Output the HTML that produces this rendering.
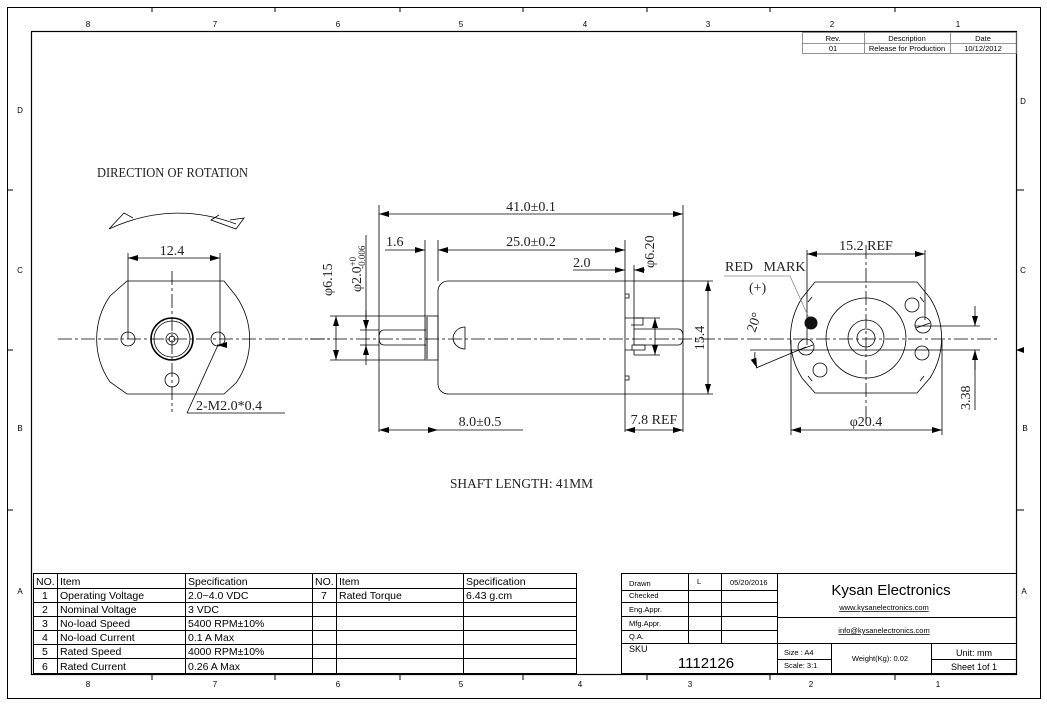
<!DOCTYPE html>
<html><head><meta charset="utf-8"><style>
html,body{margin:0;padding:0;background:#fff;}
svg{display:block;}
.d{font-family:"Liberation Serif",serif;font-size:14px;fill:#222;}
.s{font-family:"Liberation Sans",sans-serif;fill:#000;}
</style></head><body>
<svg width="1047" height="705" viewBox="0 0 1047 705" xmlns="http://www.w3.org/2000/svg">
<defs>
<marker id="a" viewBox="0 0 10 6" refX="10" refY="3" markerWidth="10" markerHeight="6" orient="auto-start-reverse" markerUnits="userSpaceOnUse"><path d="M0,0 L10,3 L0,6 z" fill="#000"/></marker>
</defs>
<rect x="0" y="0" width="1047" height="705" fill="#fff"/>
<g fill="none" stroke="#000">
<rect x="7.5" y="7.5" width="1033" height="691" stroke-width="1"/>
<rect x="31.5" y="31.5" width="985" height="643" stroke-width="1.2"/>
<!-- ticks -->
<path d="M152,7v5M275,7v5M400,7v5M523,7v5M647,7v5M770,7v5M895,7v5 M152,674v6M275,674v6M400,674v6M523,674v6M647,674v6M770,674v6M895,674v6 M7,190h6M7,350h6M7,510h6 M1016,190h8M1016,510h8"/>
</g>
<path d="M1016,350 l8,-3 v6z" fill="#000"/>
<g class="s" font-size="8" fill="#444" text-anchor="middle">
<text x="88" y="27">8</text><text x="215" y="27">7</text><text x="338" y="27">6</text><text x="461" y="27">5</text><text x="585" y="27">4</text><text x="708" y="27">3</text><text x="832" y="27">2</text><text x="958" y="27">1</text>
<text x="88" y="687">8</text><text x="215" y="687">7</text><text x="338" y="687">6</text><text x="461" y="687">5</text><text x="580" y="687">4</text><text x="690" y="687">3</text><text x="811" y="687">2</text><text x="938" y="687">1</text>
<text x="20" y="113">D</text><text x="20" y="273">C</text><text x="20" y="431">B</text><text x="20" y="594">A</text>
<text x="1023" y="104">D</text><text x="1023" y="273">C</text><text x="1025" y="431">B</text><text x="1024" y="594">A</text>
</g>
<!-- rev table -->
<g fill="none" stroke="#777" stroke-width="0.8">
<rect x="802.5" y="32.5" width="214" height="21"/><path d="M802,43.5h214M864.5,32v21M950.5,32v21"/>
</g>
<g class="s" font-size="7.5" fill="#666" text-anchor="middle">
<text x="833" y="41">Rev.</text><text x="907" y="41">Description</text><text x="983" y="41">Date</text>
<text x="833" y="51">01</text><text x="907" y="51">Release for Production</text><text x="983" y="51">10/12/2012</text>
</g>

<!-- LEFT VIEW -->
<text class="d" x="97" y="177" textLength="151" lengthAdjust="spacingAndGlyphs">DIRECTION OF ROTATION</text>
<g fill="none" stroke="#000" stroke-width="0.8">
<path d="M109,229 Q172,200 236,224"/>
<path d="M109,229 L124,213 L133,218"/><path d="M230,220 L244,218 L236,229 L211,220 L219,215"/>
<path d="M127,281 H224 L236,296 A76,76 0 0 1 236,383 L224,394 H127 L110,382 A76,76 0 0 1 110,296 Z"/>
<circle cx="128" cy="339" r="7"/><circle cx="218" cy="339" r="7"/><circle cx="172" cy="380" r="7"/>
<circle cx="172" cy="339" r="21" stroke-width="1.6"/><circle cx="172" cy="339" r="18"/><circle cx="172" cy="339" r="6"/><circle cx="172" cy="339" r="3"/>
<path d="M58,339 H330 M172,271 V412" stroke-dasharray="14,3,3,3"/>
<path d="M128,253 V339 M220,253 V345"/>
<path d="M128,258 H220" marker-start="url(#a)" marker-end="url(#a)"/>
<path d="M187,413 L218,345 M187,413 H285" /><path d="M218,345 l-1,0" marker-end="url(#a)"/>
</g>
<text class="d" x="172" y="255" text-anchor="middle">12.4</text>
<text class="d" x="196" y="410">2-M2.0*0.4</text>

<!-- MIDDLE VIEW -->
<g fill="none" stroke="#000" stroke-width="0.8">
<path d="M379,205 V432 M683,205 V432"/>
<path d="M379,214 H683" marker-start="url(#a)" marker-end="url(#a)"/>
<path d="M448,281 H625 V394 H448 A10,10 0 0 1 438,384 V291 A10,10 0 0 1 448,281 Z"/>
<rect x="425" y="316" width="13" height="44"/>
<rect x="425" y="316" width="3" height="44" fill="#888" stroke="none"/>
<path d="M426,330 H384 Q379,330 379,337.5 Q379,345 384,345 H426"/>
<path d="M634,329 H678 Q683,329 683,337 Q683,345 678,345 H634"/>
<path d="M625,294 h4 v4 h-4 M625,376 h4 v4 h-4"/>
<path d="M625,318 H643 V325 H631 M625,350 H645 V345 H632 V350"/>
<path d="M634,265 V345 M634,350 V355"/>
<path d="M453,339 A12,12 0 0 1 465,327 V349 A12,12 0 0 1 453,339"/>
<path d="M310,339 H1000" stroke-dasharray="14,3,3,3"/>
<path d="M438,281 V240 M425,316 V240 M625,281 V240"/>
<path d="M385,250 H425" marker-end="url(#a)"/>
<path d="M438,250 H625" marker-start="url(#a)" marker-end="url(#a)"/>
<path d="M573,270 H625" marker-end="url(#a)"/><path d="M645,270 H634" marker-end="url(#a)"/>
<path d="M634,318 H660 M634,355 H660"/>
<path d="M655,318 V355" marker-start="url(#a)" marker-end="url(#a)"/>
<path d="M625,281 H713 M625,394 H713"/>
<path d="M708,281 V394" marker-start="url(#a)" marker-end="url(#a)"/>
<path d="M330,316 H425 M330,360 H425"/>
<path d="M336,316 V360" marker-start="url(#a)" marker-end="url(#a)"/>
<path d="M360,330 H379 M360,345 H379 M366,235 V350"/>
<path d="M366,310 V330" marker-end="url(#a)"/><path d="M366,365 V345" marker-end="url(#a)"/>
<path d="M379,430 H438" marker-start="url(#a)" marker-end="url(#a)"/><path d="M438,430 H523"/>
<path d="M625,430 H683" marker-start="url(#a)" marker-end="url(#a)"/><path d="M625,394 V432"/>
</g>
<text class="d" x="531" y="211" text-anchor="middle">41.0±0.1</text>
<text class="d" x="386" y="246">1.6</text>
<text class="d" x="531" y="246" text-anchor="middle">25.0±0.2</text>
<text class="d" x="573" y="267">2.0</text>
<text class="d" transform="translate(654,268) rotate(-90)">φ6.20</text>
<text class="d" transform="translate(704,338) rotate(-90)" text-anchor="middle">15.4</text>
<text class="d" transform="translate(332,296) rotate(-90)">φ6.15</text>
<text class="d" transform="translate(361,292) rotate(-90)">φ2.0<tspan font-size="9" dy="-5">+0</tspan><tspan font-size="9" dx="-12" dy="9">-0.006</tspan></text>
<text class="d" x="480" y="426" text-anchor="middle">8.0±0.5</text>
<text class="d" x="654" y="424" text-anchor="middle">7.8 REF</text>
<text class="d" x="450" y="488" font-size="15" textLength="143" lengthAdjust="spacingAndGlyphs">SHAFT LENGTH: 41MM</text>

<!-- RIGHT VIEW -->
<g fill="none" stroke="#000" stroke-width="0.8">
<path d="M815,282 H917 L930,298 A75,75 0 0 1 930,378 L917,393 H815 L802,378 A75,75 0 0 1 802,298 Z"/>
<path d="M808,302 l4,-5 M924,302 l-4,-5 M808,376 l4,5 M924,376 l-4,5"/>
<circle cx="866" cy="338" r="40"/><circle cx="866" cy="338" r="18"/><circle cx="866" cy="338" r="9"/>
<circle cx="806" cy="347" r="8"/><circle cx="923" cy="325" r="8"/><circle cx="820" cy="370" r="7"/><circle cx="912" cy="305" r="7"/><circle cx="922" cy="353" r="7"/>
<path d="M799,350 l14,-5 M916,328 l14,-5"/>
<path d="M866,245 V420" stroke-dasharray="14,3,3,3"/>
<path d="M807,250 V345 M925,250 V320"/>
<path d="M807,254 H925" marker-start="url(#a)" marker-end="url(#a)"/>
<path d="M791,340 V435 M942,340 V435"/>
<path d="M791,430 H942" marker-start="url(#a)" marker-end="url(#a)"/>
<path d="M915,326 H980 M750,350 H980"/>
<path d="M975,306 V326" marker-end="url(#a)"/><path d="M975,370 V350" marker-end="url(#a)"/><path d="M975,350 V410"/>
<path d="M724,276 H790 L809,318" stroke="#888"/>
<path d="M756,368 L806,347"/>
<path d="M755,352 Q754,360 757,368" marker-end="url(#a)"/>
</g>
<circle cx="811" cy="323" r="6.5" fill="#111"/>
<text class="d" x="866" y="250" text-anchor="middle">15.2 REF</text>
<text class="d" x="866" y="426" text-anchor="middle">φ20.4</text>
<text class="d" transform="translate(970,410) rotate(-90)">3.38</text>
<text class="d" x="725" y="271" font-size="11">RED&#160;&#160;&#160;MARK</text>
<text class="d" x="749" y="292">(+)</text>
<text class="d" transform="translate(755,333) rotate(-70)">20°</text>

<!-- SPEC TABLE -->
<g fill="none" stroke="#000" stroke-width="1">
<rect x="33.5" y="573.5" width="543" height="100"/>
<path d="M33,588.5h544M33,602.5h544M33,616.5h544M33,630.5h544M33,644.5h544M33,658.5h544 M57.5,573v101M185.5,573v101M312.5,573v101M336.5,573v101M463.5,573v101"/>
</g>
<g class="s" font-size="10.5">
<text x="36" y="585">NO.</text><text x="60" y="585">Item</text><text x="188" y="585">Specification</text>
<text x="315" y="585">NO.</text><text x="339" y="585">Item</text><text x="466" y="585">Specification</text>
<text x="42" y="599">1</text><text x="60" y="599">Operating Voltage</text><text x="188" y="599">2.0~4.0 VDC</text>
<text x="321" y="599">7</text><text x="339" y="599">Rated Torque</text><text x="466" y="599">6.43 g.cm</text>
<text x="42" y="613">2</text><text x="60" y="613">Nominal Voltage</text><text x="188" y="613">3 VDC</text>
<text x="42" y="627">3</text><text x="60" y="627">No-load Speed</text><text x="188" y="627">5400 RPM±10%</text>
<text x="42" y="641">4</text><text x="60" y="641">No-load Current</text><text x="188" y="641">0.1 A Max</text>
<text x="42" y="655">5</text><text x="60" y="655">Rated Speed</text><text x="188" y="655">4000 RPM±10%</text>
<text x="42" y="670">6</text><text x="60" y="670">Rated Current</text><text x="188" y="670">0.26 A Max</text>
</g>

<!-- TITLE BLOCK -->
<g fill="none" stroke="#000" stroke-width="1">
<rect x="621.5" y="573.5" width="395" height="100"/>
<path d="M621,590.5h156M621,602.5h156M621,616.5h156M621,630.5h156M621,643.5h395 M688.5,573v70M721.5,573v70M777.5,573v101 M777,617.5h239 M831.5,643v31M931.5,643v31 M777,659.5h54M931,659.5h85"/>
</g>
<g class="s" font-size="7.5">
<text x="629" y="586">Drawn</text><text x="697" y="584">L</text><text x="730" y="585">05/20/2016</text>
<text x="629" y="598">Checked</text><text x="629" y="612">Eng.Appr.</text><text x="629" y="626">Mfg.Appr.</text><text x="629" y="639">Q.A.</text>
<text x="629" y="652" font-size="9">SKU</text>
<text x="706" y="668" font-size="15" text-anchor="middle">1112126</text>
<text x="891" y="595" font-size="15" text-anchor="middle">Kysan Electronics</text>
<text x="884" y="610" text-anchor="middle" text-decoration="underline">www.kysanelectronics.com</text>
<text x="884" y="633" text-anchor="middle" text-decoration="underline">info@kysanelectronics.com</text>
<text x="784" y="655">Size : A4</text><text x="784" y="668">Scale: 3:1</text>
<text x="880" y="661" text-anchor="middle">Weight(Kg): 0.02</text>
<text x="974" y="656" font-size="9" text-anchor="middle">Unit: mm</text>
<text x="974" y="670" font-size="9" text-anchor="middle">Sheet 1of 1</text>
</g>
</svg>
</body></html>
